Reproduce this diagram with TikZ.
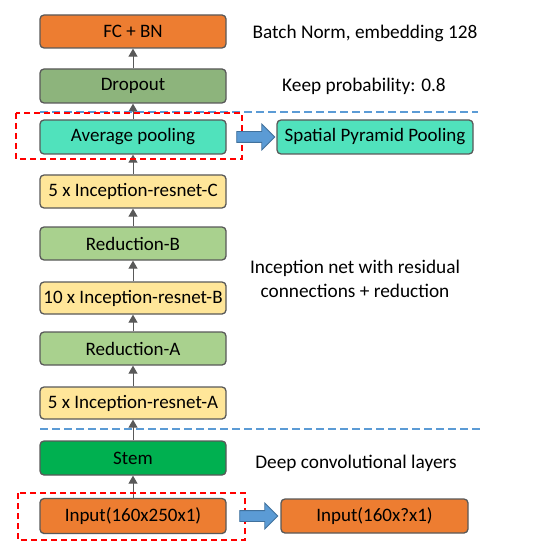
\documentclass[tikz,border=0pt]{standalone}
\usepackage{fontspec}
\setmainfont{Carlito}
\usetikzlibrary{arrows.meta,shapes.arrows,calc}
\definecolor{borderg}{HTML}{595959}
\definecolor{orangeF}{HTML}{ED7D31}
\definecolor{dropF}{HTML}{8DB47C}
\definecolor{tealF}{HTML}{50E2BC}
\definecolor{yellowF}{HTML}{FFE699}
\definecolor{redF}{HTML}{A9D18E}
\definecolor{stemF}{HTML}{00B050}
\definecolor{blueA}{HTML}{5B9BD5}
\definecolor{blueB}{HTML}{41719C}
\definecolor{blueD}{HTML}{5B9BD5}
\tikzset{
  layer/.style={draw=borderg, line width=1.3pt, rounded corners=4pt, minimum width=186pt, minimum height=33pt, font=\fontsize{19}{22}\selectfont, inner sep=0pt},
  flow/.style={draw=borderg, line width=1pt, -{Triangle[width=9pt,length=8pt]}},
  bigarrow/.style={shape=single arrow, draw=blueB, fill=blueA, line width=0.8pt, minimum height=38pt, inner sep=5pt, single arrow head extend=7.5pt},
  redbox/.style={draw=red, line width=2pt, dash pattern=on 6pt off 4pt},
  sep/.style={draw=blueD, line width=1.1pt, dash pattern=on 8pt off 4pt},
  note/.style={font=\fontsize{19.3}{24}\selectfont, align=center}
}
\begin{document}
\begin{tikzpicture}[x=1pt,y=-1pt]
\useasboundingbox (0,0) rectangle (553,553);
% main column
\node[layer, fill=orangeF] (fc) at (133,31.5) {FC + BN};
\node[layer, fill=dropF, minimum height=34pt] (drop) at (133,86) {Dropout};
\node[layer, fill=tealF, minimum height=34pt] (avg) at (133,137) {Average pooling};
\node[layer, fill=yellowF] (ic) at (133,191.5) {5 x Inception-resnet-C};
\node[layer, fill=redF] (rb) at (133,243.5) {Reduction-B};
\node[layer, fill=yellowF, minimum height=32pt] (ib) at (133,298) {10 x Inception-resnet-B};
\node[layer, fill=redF] (ra) at (133,348.5) {Reduction-A};
\node[layer, fill=yellowF, minimum height=32pt] (ia) at (133,403) {5 x Inception-resnet-A};
\node[layer, fill=stemF, minimum height=34pt] (stem) at (133,458) {Stem};
\node[layer, fill=orangeF, minimum height=35pt] (inp) at (133,516) {Input(160x250x1)};
% right boxes
\node[layer, fill=tealF, minimum width=196pt, minimum height=34pt] (spp) at (375,137) {Spatial Pyramid Pooling};
\node[layer, fill=orangeF, minimum width=187pt, minimum height=34pt] (inp2) at (374.5,516) {Input(160x?x1)};
% flow arrows
\draw[flow] (drop.north) -- (fc.south);
\draw[flow] (avg.north) -- (drop.south);
\draw[flow] (ic.north) -- (avg.south);
\draw[flow] (rb.north) -- (ic.south);
\draw[flow] (ib.north) -- (rb.south);
\draw[flow] (ra.north) -- (ib.south);
\draw[flow] (ia.north) -- (ra.south);
\draw[flow] (stem.north) -- (ia.south);
\draw[flow] (inp.north) -- (stem.south);
% separators
\coordinate (s1a) at (40,112); \coordinate (s1b) at (478,112);
\coordinate (s2a) at (40,429); \coordinate (s2b) at (480,429);
\draw[sep] (s1a) -- (s1b);
\draw[sep] (s2a) -- (s2b);
% red dashed boxes
\draw[redbox] (16,113) rectangle (242,159);
\draw[redbox] (18,493) rectangle (245,540);
% block arrows
\node[bigarrow] (ba1) at (253,137) {};
\node[bigarrow] (ba2) at (256,516) {};
% notes
\node[note] (n1) at (365,33) {Batch Norm, embedding 128};
\node[note] (n2) at (364,86) {Keep probability: 0.8};
\node[note] (n3) at (355,279) {Inception net with residual\\connections + reduction};
\node[note] (n4) at (356,463) {Deep convolutional layers};
\end{tikzpicture}
\end{document}
